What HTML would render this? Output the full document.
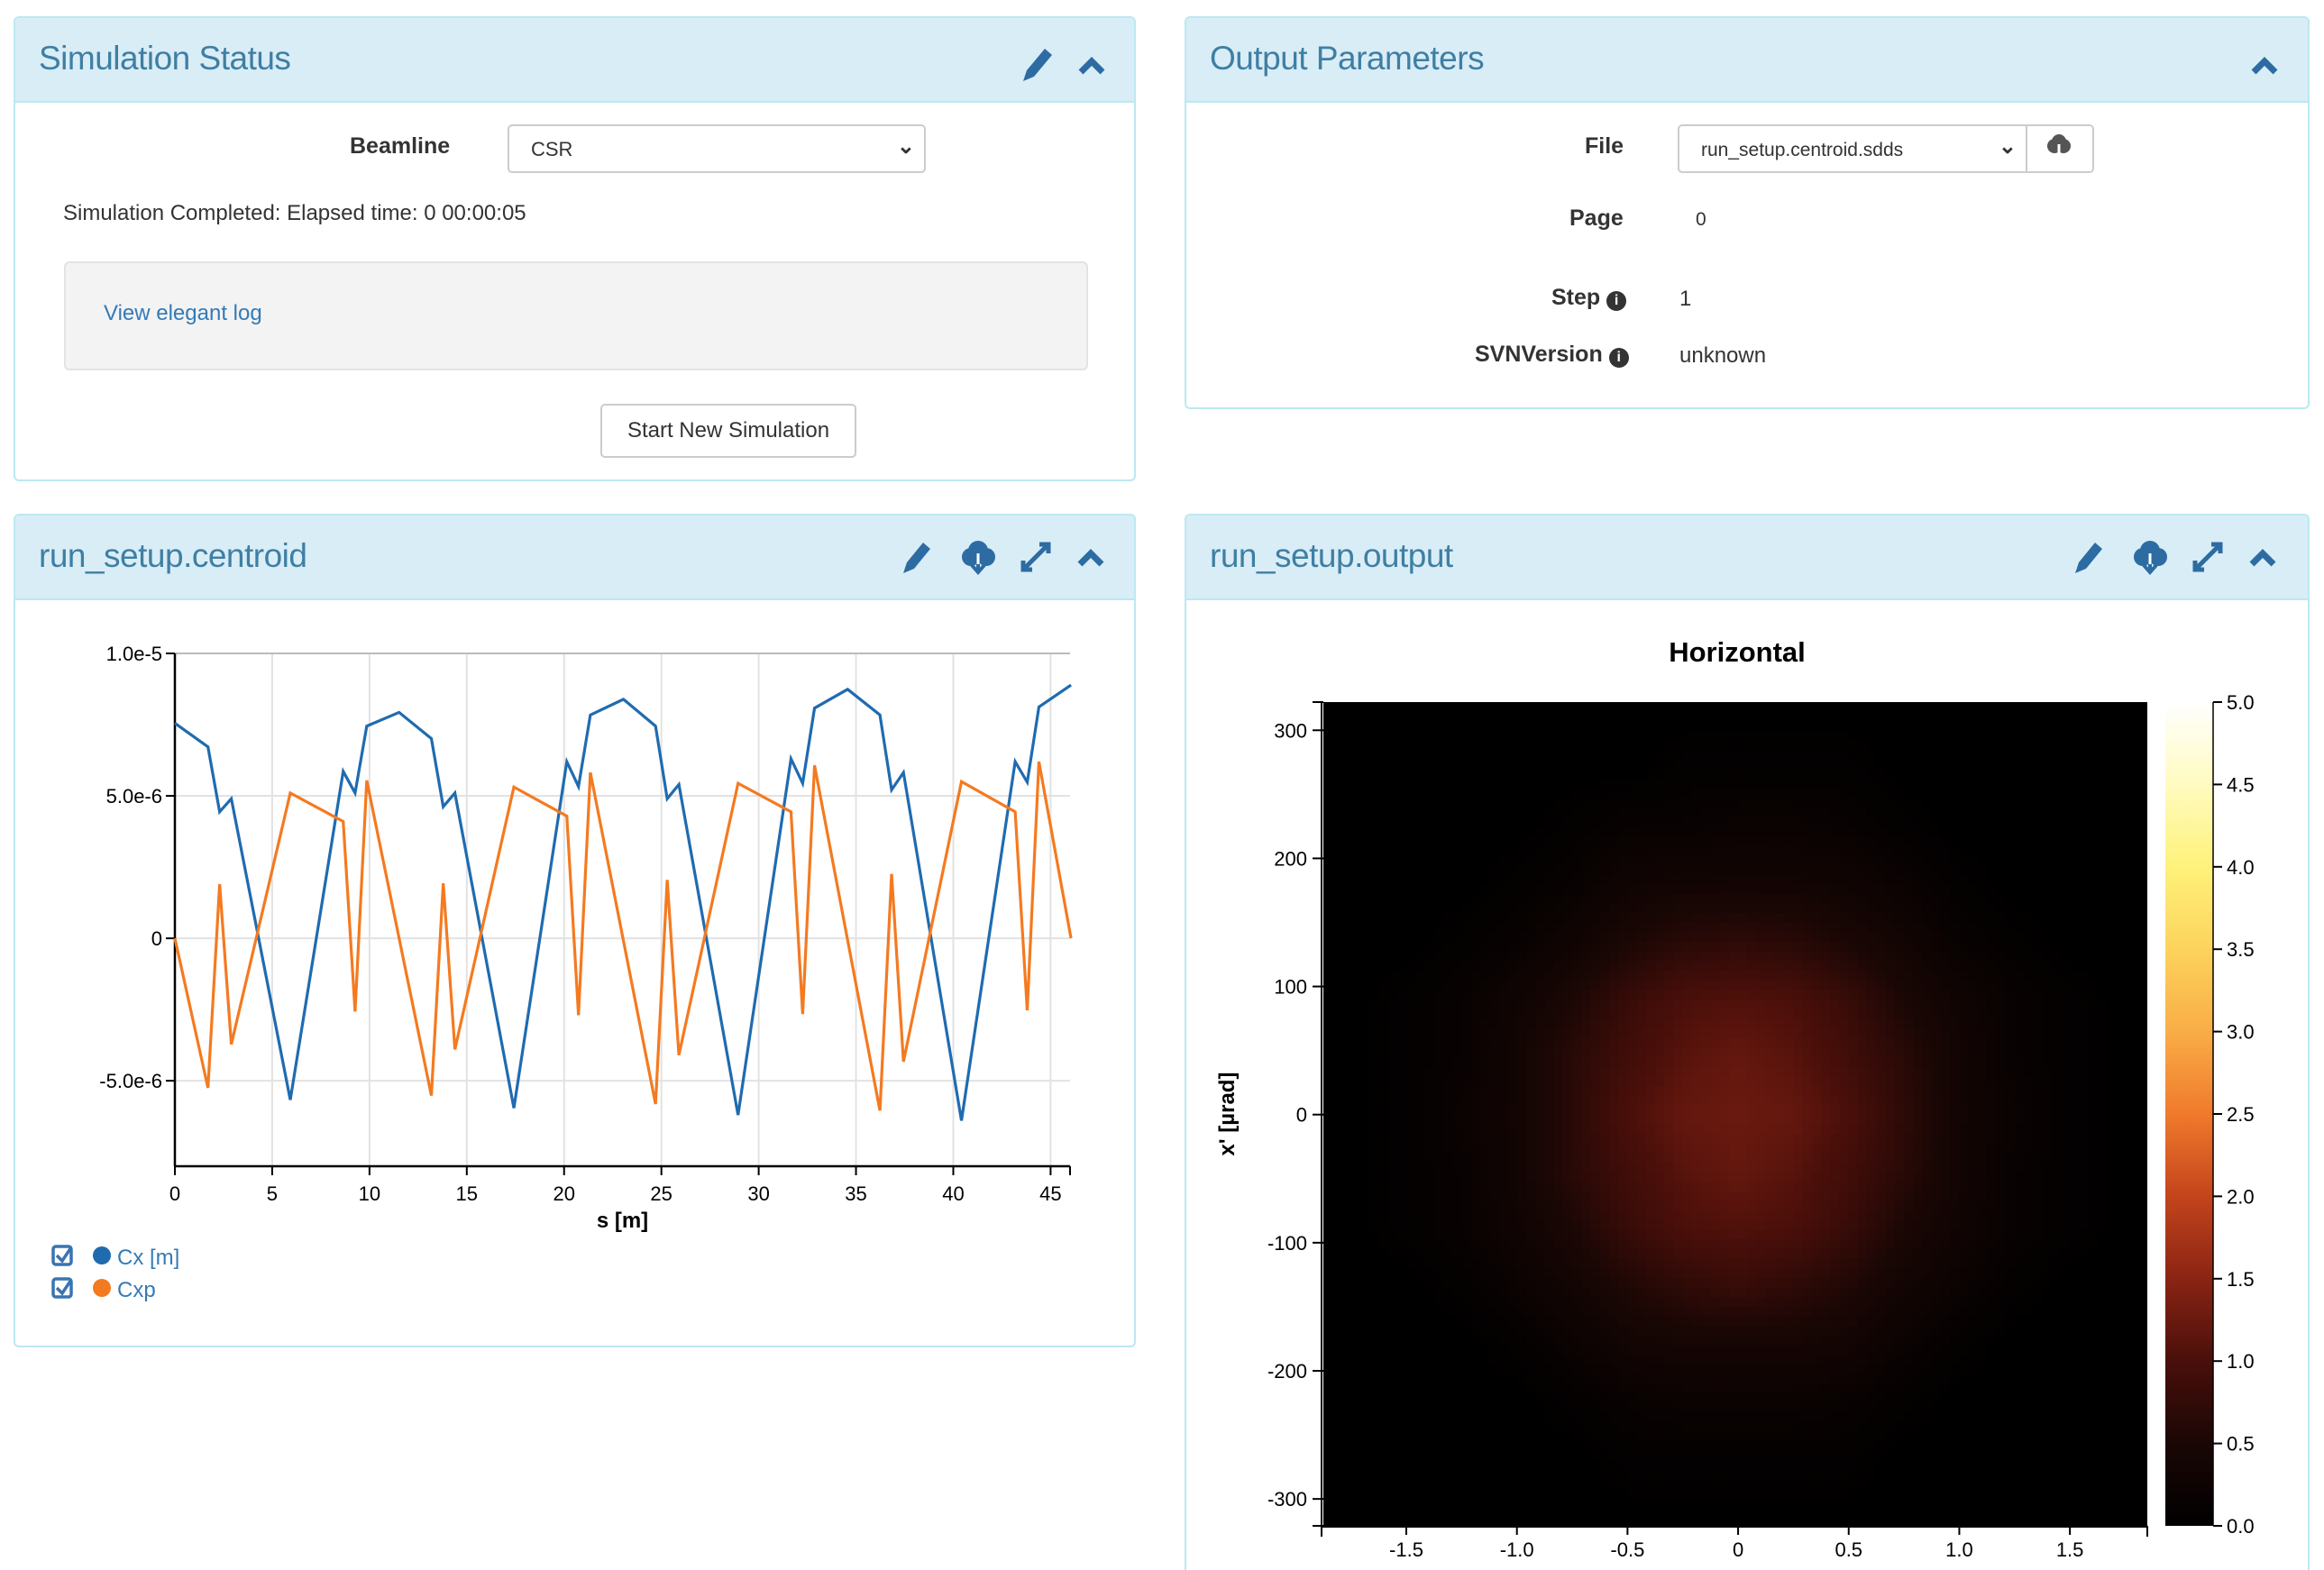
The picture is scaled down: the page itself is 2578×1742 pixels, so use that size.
<!DOCTYPE html>
<html style="width:2578px;height:1742px;overflow:hidden"><head><meta charset="utf-8">
<style>
body{margin:0;width:2578px;height:1742px;background:#fff;position:relative;overflow:hidden;font-family:"Liberation Sans",sans-serif;color:#333}
.panel{position:absolute;border:2px solid #bce8f1;border-radius:6px;background:#fff;box-sizing:border-box;overflow:hidden}
.hdr{position:absolute;left:0;right:0;top:0;height:92px;background:#d9edf7;border-bottom:2px solid #bce8f1}
.ttl{position:absolute;left:26px;top:24px;font-size:37px;color:#3f7fa3;letter-spacing:-0.5px}
.abs{position:absolute;white-space:nowrap}
.lbl{font-weight:bold;font-size:25px;color:#333}
.txt{font-size:24px;color:#333}
.sel{position:absolute;border:2px solid #ccc;border-radius:5px;background:#fff;box-sizing:border-box}
svg text{font-family:"Liberation Sans",sans-serif}
</style></head><body>

<div class="panel" style="left:15px;top:18px;width:1245px;height:516px">
  <div class="hdr"><div class="ttl">Simulation Status</div></div>
  <div class="abs lbl" style="left:371px;top:128px">Beamline</div>
  <div class="sel" style="left:546px;top:118px;width:464px;height:54px"><span class="abs txt" style="left:24px;top:13px;font-size:22px">CSR</span><span class="abs" style="right:10px;top:8px;font-size:24px;font-weight:bold">&#8964;</span></div>
  <div class="abs txt" style="left:53px;top:203px">Simulation Completed: Elapsed time: 0 00:00:05</div>
  <div class="abs" style="left:54px;top:270px;width:1136px;height:121px;background:#f3f3f3;border:2px solid #e3e3e3;border-radius:6px;box-sizing:border-box"></div>
  <div class="abs" style="left:98px;top:314px;font-size:24px;color:#337ab7">View elegant log</div>
  <div class="abs" style="left:649px;top:428px;width:284px;height:60px;border:2px solid #ccc;border-radius:5px;box-sizing:border-box;font-size:24px;text-align:center;line-height:56px">Start New Simulation</div>
  <svg class="abs" style="left:1110px;top:26px" width="120" height="50">
    <g fill="#2d6ca2"><path d="M8 44 L12 32 L32 8 L40 15 L20 39 Z"/></g>
    <g><path d="M72 34 L84 22 L96 34" fill="none" stroke="#2d6ca2" stroke-width="7"/></g>
  </svg>
</div>

<div class="panel" style="left:1314px;top:18px;width:1248px;height:436px">
  <div class="hdr"><div class="ttl">Output Parameters</div></div>
  <svg class="abs" style="left:1170px;top:26px" width="60" height="50"><path d="M14 34 L26 22 L38 34" fill="none" stroke="#2d6ca2" stroke-width="7"/></svg>
  <div class="abs lbl" style="left:442px;top:128px">File</div>
  <div class="sel" style="left:545px;top:118px;width:462px;height:54px"><span class="abs" style="left:24px;top:15px;font-size:21px">run_setup.centroid.sdds</span><span class="abs" style="right:84px;top:8px;font-size:24px;font-weight:bold">&#8964;</span>
    <div class="abs" style="right:0;top:0;width:72px;height:50px;border-left:2px solid #ccc"><svg width="72" height="50"><circle cx="30" cy="22" r="8" fill="#555"/><circle cx="40" cy="22" r="8" fill="#555"/><circle cx="35" cy="17" r="8" fill="#555"/><path d="M35 20 V36 M30 31 L35 37 L40 31" stroke="#fff" stroke-width="3" fill="none"/></svg></div></div>
  <div class="abs lbl" style="left:425px;top:208px">Page</div>
  <div class="abs txt" style="left:565px;top:212px;font-size:21px">0</div>
  <div class="abs lbl" style="left:405px;top:296px">Step <span style="display:inline-block;width:22px;height:22px;border-radius:11px;background:#333;color:#fff;font-size:16px;text-align:center;line-height:22px">i</span></div>
  <div class="abs txt" style="left:547px;top:298px">1</div>
  <div class="abs lbl" style="left:320px;top:359px">SVNVersion <span style="display:inline-block;width:22px;height:22px;border-radius:11px;background:#333;color:#fff;font-size:16px;text-align:center;line-height:22px">i</span></div>
  <div class="abs txt" style="left:547px;top:361px">unknown</div>
</div>

<div class="panel" style="left:15px;top:570px;width:1245px;height:925px">
  <div class="hdr"><div class="ttl">run_setup.centroid</div></div>
</div>
<div class="panel" style="left:1314px;top:570px;width:1248px;height:1190px">
  <div class="hdr"><div class="ttl">run_setup.output</div></div>
</div>

<svg id="chart" class="abs" style="left:0;top:0" width="2578" height="1742">
  <defs><clipPath id="hclip"><rect x="1468" y="779" width="914" height="914"/></clipPath>
  <linearGradient id="cbar" x1="0" y1="1" x2="0" y2="0">
    <stop offset="0" stop-color="#000"/><stop offset="0.1" stop-color="#1a0705"/><stop offset="0.2" stop-color="#4a0f0a"/><stop offset="0.3" stop-color="#8a2414"/><stop offset="0.4" stop-color="#c4441c"/><stop offset="0.5" stop-color="#f07a2c"/><stop offset="0.6" stop-color="#f9ad46"/><stop offset="0.7" stop-color="#fdd35c"/><stop offset="0.8" stop-color="#fef27a"/><stop offset="0.9" stop-color="#fffbc0"/><stop offset="1" stop-color="#fff"/></linearGradient></defs>
</svg>

<script>
// ---- centroid line chart data ----
const sVals = [0,1.7,2.3,2.9,5.93,8.65,9.26,9.86,11.52,13.18,13.79,14.39,17.42,20.14,20.74,21.35,23.05,24.7,25.3,25.9,28.94,31.66,32.26,32.87,34.57,36.23,36.83,37.44,40.42,43.18,43.8,44.4,46.05];
const cxVals = [7.55,6.72,4.44,4.9,-5.67,5.86,5.1,7.45,7.93,7.01,4.62,5.1,-5.96,6.2,5.33,7.84,8.39,7.45,4.9,5.4,-6.2,6.3,5.44,8.08,8.74,7.84,5.21,5.82,-6.4,6.2,5.48,8.12,8.89];
const sValsP = [0,1.7,2.3,2.9,5.93,8.65,9.26,9.86,13.18,13.79,14.39,17.42,20.14,20.74,21.35,24.7,25.3,25.9,28.94,31.66,32.26,32.87,36.23,36.83,37.44,40.42,43.18,43.8,44.4,46.05];
const cxpVals = [0,-5.25,1.9,-3.72,5.1,4.1,-2.57,5.54,-5.52,1.93,-3.9,5.31,4.29,-2.7,5.82,-5.82,2.05,-4.1,5.44,4.44,-2.66,6.07,-6.05,2.26,-4.33,5.5,4.44,-2.53,6.2,0];
const xTicks = [0,5,10,15,20,25,30,35,40,45];
const yTicks = [-5e-6,0,5e-6,1e-5];
const yTickLabels = ["-5.0e-6","0","5.0e-6","1.0e-5"];
// ---- heatmap data (coarse density, x' vs x) ----
const hxCenters = [-1.75,-1.5,-1.25,-1,-0.75,-0.5,-0.25,0,0.25,0.5,0.75,1,1.25,1.5,1.75];
const hyCenters = [315,270,225,180,135,90,45,0,-45,-90,-135,-180,-225,-270,-315];
const hDensity = [
[0,0,0,0,0,0,0,0,0,0,0,0,0,0,0],
[0,0,0,0,0,0,.07,.07,.07,.07,0,0,0,0,0],
[0,0,0,0,.07,.15,.15,.2,.2,.15,.07,0,0,0,0],
[0,0,0,.07,.15,.3,.35,.35,.35,.3,.2,.07,0,0,0],
[0,0,.07,.15,.3,.5,.65,.7,.65,.5,.35,.15,.07,0,0],
[0,.07,.15,.3,.5,.8,1.0,1.05,1.0,.8,.5,.3,.15,.07,0],
[0,.07,.15,.35,.65,.9,1.1,1.2,1.1,.9,.65,.35,.15,.07,0],
[0,.07,.2,.35,.65,1.0,1.2,1.25,1.2,1.0,.7,.35,.2,.07,0],
[0,.07,.15,.35,.65,.9,1.1,1.2,1.1,.9,.65,.35,.15,.07,0],
[0,.07,.15,.3,.5,.8,1.0,1.05,1.0,.8,.5,.3,.15,.07,0],
[0,0,.07,.2,.35,.55,.7,.8,.7,.55,.35,.2,.07,0,0],
[0,0,0,.07,.2,.35,.4,.4,.4,.35,.2,.07,0,0,0],
[0,0,0,0,.07,.15,.2,.2,.2,.15,.07,0,0,0,0],
[0,0,0,0,0,.07,.07,.07,.07,.07,0,0,0,0,0],
[0,0,0,0,0,0,0,0,0,0,0,0,0,0,0]];
const hxTicks = [-1.5,-1.0,-0.5,0,0.5,1.0,1.5];
const hxTickLabels = ["-1.5","-1.0","-0.5","0","0.5","1.0","1.5"];
const hyTicks = [300,200,100,0,-100,-200,-300];
const cbTicks = [0,0.5,1,1.5,2,2.5,3,3.5,4,4.5,5];

const NS="http://www.w3.org/2000/svg";
const svg=document.getElementById('chart');
function mk(tag,attrs,parent){const e=document.createElementNS(NS,tag);for(const k in attrs)e.setAttribute(k,attrs[k]);(parent||svg).appendChild(e);return e;}

// centroid axes
const L=194,R=1187,T=725,B=1294;
const sx=v=>L+(v-0)/(46-0)*(R-L);
const sy=v=>B-(v-(-8e-6))/(1e-5-(-8e-6))*(B-T);
const g1=mk('g',{});


xTicks.forEach(t=>{
  const gl=mk('line',{x1:sx(t),x2:sx(t),y1:T,y2:B,stroke:'#e2e2e2','stroke-width':2},g1);
  
  mk('line',{x1:sx(t),x2:sx(t),y1:B,y2:B+10,stroke:'#000','stroke-width':2},g1);
  const tx=mk('text',{x:sx(t),y:B+38,'text-anchor':'middle','font-size':22,fill:'#000'},g1);tx.textContent=t;
  
});
mk('line',{x1:R,x2:R,y1:B,y2:B+10,stroke:'#000','stroke-width':2},g1);
yTicks.forEach((t,i)=>{
  const gl=mk('line',{x1:L,x2:R,y1:sy(t),y2:sy(t),stroke:i==3?'#bbb':'#e2e2e2','stroke-width':2},g1);
  
  mk('line',{x1:L-10,x2:L,y1:sy(t),y2:sy(t),stroke:'#000','stroke-width':2},g1);
  const tx=mk('text',{x:L-14,y:sy(t)+8,'text-anchor':'end','font-size':22,fill:'#000'},g1);tx.textContent=yTickLabels[i];
  
});
mk('line',{x1:L,x2:L,y1:T,y2:B,stroke:'#000','stroke-width':2.5},g1);
mk('line',{x1:L,x2:R,y1:B,y2:B,stroke:'#000','stroke-width':2.5},g1);
const xt=mk('text',{x:(L+R)/2,y:B+68,'text-anchor':'middle','font-size':24,'font-weight':'bold',fill:'#000'},g1);xt.textContent='s [m]';

const p1=mk('polyline',{points:sVals.map((s,i)=>sx(s)+','+sy(cxVals[i]*1e-6)).join(' '),fill:'none',stroke:'#1f6bb0','stroke-width':3.2},g1);

const p2=mk('polyline',{points:sValsP.map((s,i)=>sx(s)+','+sy(cxpVals[i]*1e-6)).join(' '),fill:'none',stroke:'#f47a20','stroke-width':3.2},g1);

// legend
[['Cx [m]','#1f6bb0',1394],['Cxp','#f47a20',1430]].forEach(([n,c,y])=>{
  const lg=mk('g',{},g1);
  
  mk('rect',{x:59,y:y-11,width:20,height:20,rx:3,fill:'none',stroke:'#3a74b0','stroke-width':3.5},lg);
  mk('path',{d:`M63 ${y-1} L69 ${y+5} L79 ${y-10}`,fill:'none',stroke:'#3a74b0','stroke-width':3.5},lg);
  mk('circle',{cx:113,cy:y-1,r:10,fill:c},lg);
  const t=mk('text',{x:130,y:y+9,'font-size':24,fill:'#337ab7'},lg);t.textContent=n;
});

// header icons for chart panels
function icons(xs,y){
  const g=mk('g',{});
  
  const [a,b,c,d]=xs;
  const e=mk('path',{d:`M${a-14} ${y+18} L${a-10} ${y+6} L${a+8} ${y-16} L${a+16} ${y-9} L${a-2} ${y+13} Z`,fill:'#2d6ca2'},g);
  
  const cg=mk('g',{fill:'#2d6ca2'},g);
  
  mk('circle',{cx:b-8,cy:y,r:10},cg);mk('circle',{cx:b+9,cy:y,r:10},cg);mk('circle',{cx:b,cy:y-7,r:11},cg);
  mk('path',{d:`M${b} ${y-4} V${y+16} M${b-7} ${y+9} L${b} ${y+17} L${b+7} ${y+9}`,stroke:'#2d6ca2','stroke-width':4,fill:'none'},cg);
  mk('path',{d:`M${b} ${y-4} V${y+8}`,stroke:'#fff','stroke-width':3},cg);
  const f=mk('path',{d:`M${c-14} ${y+14} L${c+14} ${y-14} M${c-14} ${y+4} V${y+14} H${c-4} M${c+4} ${y-14} H${c+14} V${y-4}`,stroke:'#2d6ca2','stroke-width':5,fill:'none'},g);
  
  const h=mk('path',{d:`M${d-12} ${y+8} L${d} ${y-4} L${d+12} ${y+8}`,stroke:'#2d6ca2','stroke-width':7,fill:'none'},g);
  
}
icons([1016,1085,1149,1210],618);
icons([2316,2385,2449,2510],618);

// heatmap
const HL=1468,HR=2382,HT=779,HB=1693;
const hx=v=>HL+(v-(-1.875))/(1.85-(-1.875))*(HR-HL);
const hy=v=>HB-(v-(-321))/(322-(-321))*(HB-HT);
const stops=[[0,[0,0,0]],[0.5,[26,7,5]],[1,[74,15,10]],[1.5,[138,36,20]],[2,[196,68,28]],[2.5,[240,122,44]],[3,[249,173,70]],[3.5,[253,211,92]],[4,[254,242,122]],[4.5,[255,251,192]],[5,[255,255,255]]];
function cmap(v){v=Math.max(0,Math.min(5,v));for(let i=1;i<stops.length;i++){if(v<=stops[i][0]){const [a,ca]=stops[i-1],[b,cb]=stops[i];const t=(v-a)/(b-a);return 'rgb('+ca.map((c,k)=>Math.round(c+(cb[k]-c)*t)).join(',')+')';}}return '#fff';}
const hg=mk('g',{'clip-path':'url(#hclip)'});

mk('rect',{x:HL,y:HT,width:HR-HL,height:HB-HT,fill:'#000'},hg);
// render cells with bilinear upsampling between the data points (display smoothing only)
const SUB=6;
const nR=hDensity.length,nC=hDensity[0].length;
function val(r,c){r=Math.max(0,Math.min(nR-1,r));c=Math.max(0,Math.min(nC-1,c));return hDensity[r][c];}
function interp(fr,fc){const r0=Math.floor(fr),c0=Math.floor(fc),tr=fr-r0,tc=fc-c0;
  return val(r0,c0)*(1-tr)*(1-tc)+val(r0+1,c0)*tr*(1-tc)+val(r0,c0+1)*(1-tr)*tc+val(r0+1,c0+1)*tr*tc;}
const xStep=hxCenters[1]-hxCenters[0], yStep=hyCenters[1]-hyCenters[0];
for(let i=0;i<(nR)*SUB;i++){
  for(let j=0;j<(nC)*SUB;j++){
    const fr=(i+0.5)/SUB-0.5, fc=(j+0.5)/SUB-0.5;
    const v=interp(fr,fc);
    if(v<=0.005) continue;
    const xv0=hxCenters[0]+(fc-0.5/SUB)*xStep, xv1=hxCenters[0]+(fc+0.5/SUB)*xStep;
    const yv0=hyCenters[0]+(fr-0.5/SUB)*yStep, yv1=hyCenters[0]+(fr+0.5/SUB)*yStep;
    const cell=mk('rect',{x:hx(xv0),y:hy(yv0),width:hx(xv1)-hx(xv0)+0.8,height:hy(yv1)-hy(yv0)+0.8,fill:cmap(v)},hg);
    
    
  }
}
const hax=mk('g',{});

mk('line',{x1:HL-2,x2:HL-2,y1:HT,y2:HB,stroke:'#000','stroke-width':2},hax);
mk('line',{x1:HL-2,x2:HR,y1:HB+1,y2:HB+1,stroke:'#000','stroke-width':2},hax);
mk('line',{x1:HL-12,x2:HL,y1:HT,y2:HT,stroke:'#000','stroke-width':2},hax);
mk('line',{x1:HL-12,x2:HL,y1:HB,y2:HB,stroke:'#000','stroke-width':2},hax);
mk('line',{x1:HL-2,x2:HL-2,y1:HB,y2:HB+12,stroke:'#000','stroke-width':2},hax);
mk('line',{x1:HR,x2:HR,y1:HB,y2:HB+12,stroke:'#000','stroke-width':2},hax);
hxTicks.forEach((t,i)=>{
  mk('line',{x1:hx(t),x2:hx(t),y1:HB,y2:HB+10,stroke:'#000','stroke-width':2},hax);
  const tx=mk('text',{x:hx(t),y:HB+34,'text-anchor':'middle','font-size':22,fill:'#000'},hax);tx.textContent=hxTickLabels[i];
  
});
hyTicks.forEach(t=>{
  mk('line',{x1:HL-12,x2:HL,y1:hy(t),y2:hy(t),stroke:'#000','stroke-width':2},hax);
  const tx=mk('text',{x:HL-18,y:hy(t)+8,'text-anchor':'end','font-size':22,fill:'#000'},hax);tx.textContent=t;
  
});
const ht=mk('text',{x:1927,y:734,'text-anchor':'middle','font-size':31,'font-weight':'bold',fill:'#000'});ht.textContent='Horizontal';

const yl=mk('text',{x:0,y:0,'text-anchor':'middle','font-size':24,'font-weight':'bold',fill:'#000',transform:'translate(1369,1236) rotate(-90)'});yl.textContent="x' [µrad]";

// colorbar
const CT=779,CB=1693;
const cy=v=>CB-(v/5)*(CB-CT);
const cb=mk('rect',{x:2402,y:CT,width:53,height:CB-CT,fill:'url(#cbar)'});

mk('line',{x1:2455,x2:2455,y1:CT,y2:CB,stroke:'#000','stroke-width':1.5});
cbTicks.forEach(t=>{
  mk('line',{x1:2455,x2:2465,y1:cy(t),y2:cy(t),stroke:'#000','stroke-width':2});
  const tx=mk('text',{x:2470,y:cy(t)+8,'font-size':22,fill:'#000'});tx.textContent=t.toFixed(1);
  
});
</script>
</body></html>
